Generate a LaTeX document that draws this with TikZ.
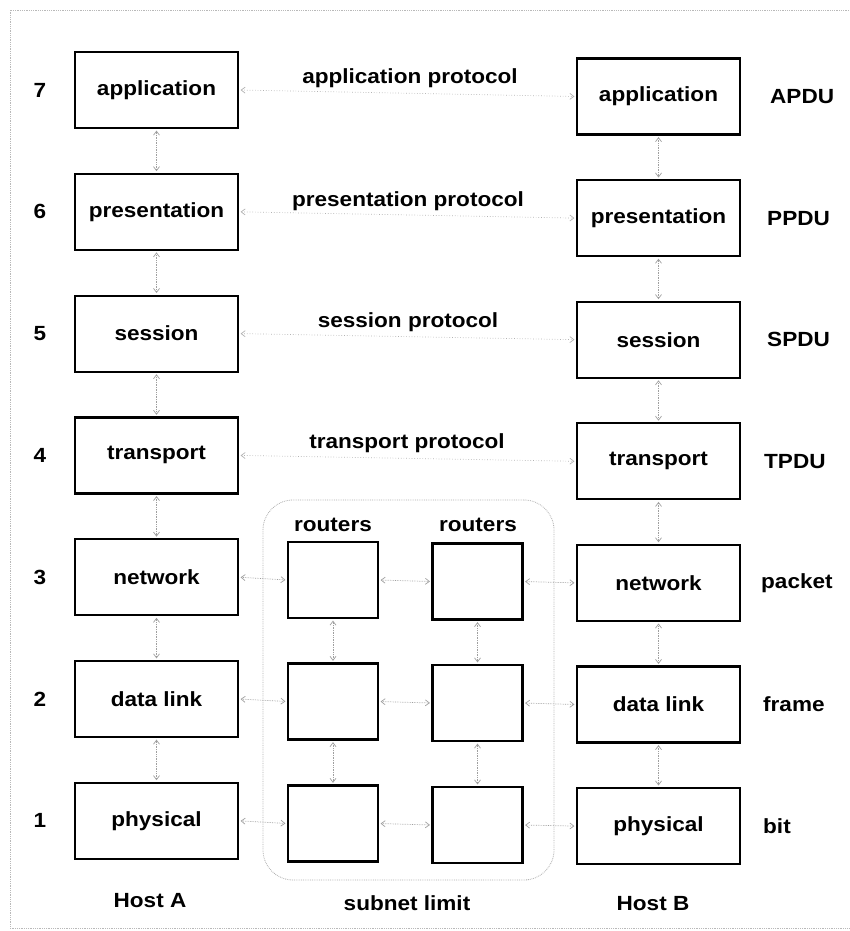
\documentclass[tikz,border=0pt]{standalone}
\usepackage{fontspec}
\setmainfont{Liberation Sans}[FakeStretch=1.1]
\usetikzlibrary{arrows.meta}
\tikzset{
  txt/.style={font=\bfseries\fontsize{20.5}{20.5}\selectfont, inner sep=0pt},
  layer/.style={txt, draw=black, line width=2.2pt, minimum width=163pt, minimum height=76pt},
  router/.style={draw=black, line width=2.2pt, minimum width=90pt, minimum height=76pt, inner sep=0pt},
  link/.style={densely dotted, draw=gray!75, line width=0.7pt,
    {Straight Barb[length=4pt,width=6pt]}-{Straight Barb[length=4pt,width=6pt]},
    shorten >=1.5pt, shorten <=1.5pt},
  proto/.style={link, dotted, draw=gray!60},
  frameline/.style={draw=gray!55, line width=0.8pt, densely dotted},
}
\begin{document}
\begin{tikzpicture}[x=1pt,y=-1pt]
\useasboundingbox (0,0) rectangle (849,931);
% frame
\draw[frameline] (849,10) -- (10,10) -- (10,928) -- (849,928);

% left host
\foreach \n/\t/\k in {l7/application/0,l6/presentation/1,l5/session/2,l4/transport/3,l3/network/4,l2/data link/5,l1/physical/6}{
  \node[layer] (\n) at (156.5,{90+121.8*\k}) {\t};
}
% right host
\foreach \n/\t/\k in {r7/application/0,r6/presentation/1,r5/session/2,r4/transport/3,r3/network/4,r2/data link/5,r1/physical/6}{
  \node[layer] (\n) at (658.5,{96.5+121.6*\k}) {\t};
}
% layer numbers
\foreach \k/\num in {0/7,1/6,2/5,3/4,4/3,5/2,6/1}{
  \node[txt] (num\num) at (40,{90+121.8*\k}) {\num};
}
% right labels
\node[txt, anchor=west] (pdu7) at (770,96.5) {APDU};
\node[txt, anchor=west] (pdu6) at (767,218.1) {PPDU};
\node[txt, anchor=west] (pdu5) at (767,339.7) {SPDU};
\node[txt, anchor=west] (pdu4) at (764,461.3) {TPDU};
\node[txt, anchor=west] (pdu3) at (761,582.9) {packet};
\node[txt, anchor=west] (pdu2) at (763,704.5) {frame};
\node[txt, anchor=west] (pdu1) at (763,826.1) {bit};

% subnet limit
\node[draw=gray!65, densely dotted, line width=0.8pt, rounded corners=30pt,
      minimum width=291pt, minimum height=380pt, inner sep=0pt] (subnet) at (408.5,690) {};

% routers
\node[router] (a3) at (333,580) {};
\node[router] (a2) at (333,701.5) {};
\node[router] (a1) at (333,823.5) {};
\node[router] (b3) at (477.5,581.5) {};
\node[router] (b2) at (477.5,703) {};
\node[router] (b1) at (477.5,825) {};
\node[txt] (rt1) at (333,525) {routers};
\node[txt] (rt2) at (478,525) {routers};

% protocol labels
\node[txt] (p7) at (410,78) {application protocol};
\node[txt] (p6) at (408,201) {presentation protocol};
\node[txt] (p5) at (408,322) {session protocol};
\node[txt] (p4) at (407,443) {transport protocol};

% bottom labels
\node[txt] (hostA) at (150,901) {Host A};
\node[txt] (hostB) at (653,904) {Host B};
\node[txt] (sub) at (407,903) {subnet limit};

% vertical links
\foreach \a/\b in {l7/l6,l6/l5,l5/l4,l4/l3,l3/l2,l2/l1,r7/r6,r6/r5,r5/r4,r4/r3,r3/r2,r2/r1,a3/a2,a2/a1,b3/b2,b2/b1}{
  \draw[link] (\a.south) -- (\b.north);
}
% protocol links
\foreach \k in {7,6,5,4}{
  \draw[proto] (l\k.east) -- (r\k.west);
}
% subnet links
\foreach \k in {3,2,1}{
  \draw[link] (l\k.east) -- (a\k.west);
  \draw[link] (a\k.east) -- (b\k.west);
  \draw[link] (b\k.east) -- (r\k.west);
}
\end{tikzpicture}
\end{document}
